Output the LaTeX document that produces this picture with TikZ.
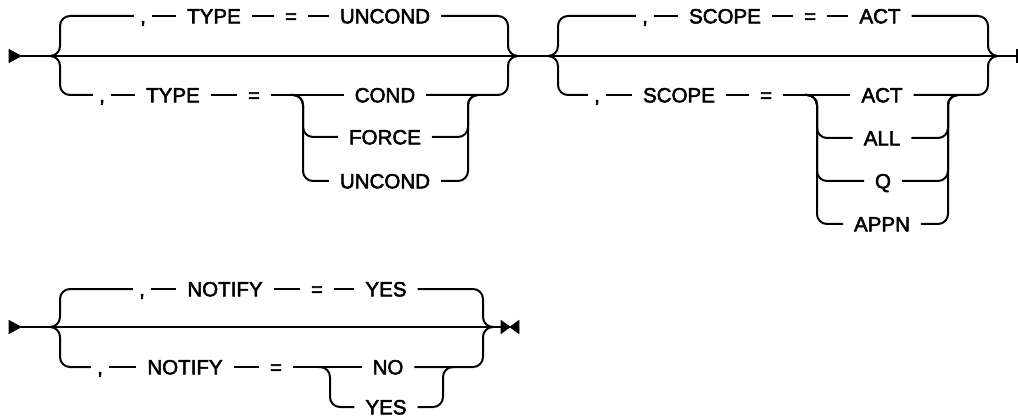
\documentclass[tikz,border=0pt]{standalone}
\usepackage{fontspec}
\setmainfont[FakeBold=2.5]{Liberation Sans}
\usetikzlibrary{calc}
\begin{document}
\begin{tikzpicture}[x=0.75pt,y=-0.75pt,line width=1.5pt,
  rr/.style={rounded corners=7.5pt},
  w/.style={inner xsep=7.5pt,inner ysep=0pt,text height=11pt,text depth=0pt,
    font=\fontsize{15.4pt}{18pt}\selectfont},
  c/.style={w,inner xsep=4pt},
  mark tip/.style={fill=black,draw=black,line width=0.6pt,line join=miter}]
\useasboundingbox (0,0) rectangle (1018,417);
% ---------------- row 1 ----------------
\coordinate (s1) at (21,56);
\coordinate (e1) at (1017,56);
\filldraw[mark tip] (9,49.5) -- (s1) -- (9,62.5) -- cycle;
\draw (s1) -- (e1);
\draw ($(e1)+(0,-7)$) -- ($(e1)+(0,7)$);
% group TYPE
\coordinate (Aj) at (50,56);
\coordinate (Ab) at (508,56);
\node[c] (a1) at (143,16) {,};
\node[w] (a2) at (214,16) {TYPE};
\node[w] (a3) at (291,16) {=};
\node[w] (a4) at (385,16) {UNCOND};
\draw[rr] (Aj) -- ++(10,0) |- (a1.west);
\draw (a1.east) -- (a2.west) (a2.east) -- (a3.west) (a3.east) -- (a4.west);
\draw[rr] (a4.east) -| (Ab) -- ++(10,0);
\node[c] (b1) at (102,95) {,};
\node[w] (b2) at (173,95) {TYPE};
\node[w] (b3) at (254,95) {=};
\node[w] (b4) at (385,95) {COND};
\node[w] (b5) at (385,137) {FORCE};
\node[w] (b6) at (385,181) {UNCOND};
\draw[rr] (Aj) -- ++(10,0) |- (b1.west);
\draw (b1.east) -- (b2.west) (b2.east) -- (b3.west) (b3.east) -- (b4.west);
\draw[rr] (b4.east) -| (Ab) -- ++(10,0);
\coordinate (Bsa) at (291,95);
\coordinate (Bs) at (303,95);
\coordinate (Br) at (468,95);
\draw[rr] (Bsa) -- (Bs) |- (b5.west);
\draw[rr] (Bsa) -- (Bs) |- (b6.west);
\draw[rr] (b5.east) -| (Br) -- ++(10,0);
\draw[rr] (b6.east) -| (Br) -- ++(10,0);
% group SCOPE
\coordinate (Cj) at (548,56);
\coordinate (Cb) at (988,56);
\node[c] (c1) at (645,16) {,};
\node[w] (c2) at (725,16) {SCOPE};
\node[w] (c3) at (810,16) {=};
\node[w] (c4) at (880,16) {ACT};
\draw[rr] (Cj) -- ++(10,0) |- (c1.west);
\draw (c1.east) -- (c2.west) (c2.east) -- (c3.west) (c3.east) -- (c4.west);
\draw[rr] (c4.east) -| (Cb) -- ++(10,0);
\node[c] (d1) at (597,95) {,};
\node[w] (d2) at (679,95) {SCOPE};
\node[w] (d3) at (766,95) {=};
\node[w] (d4) at (882,95) {ACT};
\node[w] (d5) at (882,138) {ALL};
\node[w] (d6) at (883,181) {Q};
\node[w] (d7) at (882,224) {APPN};
\draw[rr] (Cj) -- ++(10,0) |- (d1.west);
\draw (d1.east) -- (d2.west) (d2.east) -- (d3.west) (d3.east) -- (d4.west);
\draw[rr] (d4.east) -| (Cb) -- ++(10,0);
\coordinate (Dsa) at (805,95);
\coordinate (Ds) at (817,95);
\coordinate (Dr) at (948,95);
\draw[rr] (Dsa) -- (Ds) |- (d5.west);
\draw[rr] (Dsa) -- (Ds) |- (d6.west);
\draw[rr] (Dsa) -- (Ds) |- (d7.west);
\draw[rr] (d5.east) -| (Dr) -- ++(10,0);
\draw[rr] (d6.east) -| (Dr) -- ++(10,0);
\draw[rr] (d7.east) -| (Dr) -- ++(10,0);
% ---------------- row 2 ----------------
\coordinate (s2) at (21,327);
\coordinate (e2) at (510,327);
\filldraw[mark tip] (9,320.5) -- (s2) -- (9,333.5) -- cycle;
\draw (s2) -- (501,327);
\filldraw[mark tip] (501,320.5) -- (e2) -- (501,333.5) -- cycle;
\filldraw[mark tip] (519,320.5) -- (e2) -- (519,333.5) -- cycle;
\coordinate (Ej) at (50,327);
\coordinate (Eb) at (483,327);
\node[c] (f1) at (142,289) {,};
\node[w] (f2) at (225,289) {NOTIFY};
\node[w] (f3) at (317,289) {=};
\node[w] (f4) at (386,289) {YES};
\draw[rr] (Ej) -- ++(10,0) |- (f1.west);
\draw (f1.east) -- (f2.west) (f2.east) -- (f3.west) (f3.east) -- (f4.west);
\draw[rr] (f4.east) -| (Eb) -- ++(10,0);
\node[c] (g1) at (100,367) {,};
\node[w] (g2) at (185,367) {NOTIFY};
\node[w] (g3) at (276,367) {=};
\node[w] (g4) at (388,367) {NO};
\node[w] (g5) at (386,407) {YES};
\draw[rr] (Ej) -- ++(10,0) |- (g1.west);
\draw (g1.east) -- (g2.west) (g2.east) -- (g3.west) (g3.east) -- (g4.west);
\draw[rr] (g4.east) -| (Eb) -- ++(10,0);
\coordinate (Gsa) at (318,367);
\coordinate (Gs) at (330,367);
\coordinate (Gr) at (443,367);
\draw[rr] (Gsa) -- (Gs) |- (g5.west);
\draw[rr] (g5.east) -| (Gr) -- ++(10,0);
\end{tikzpicture}
\end{document}
